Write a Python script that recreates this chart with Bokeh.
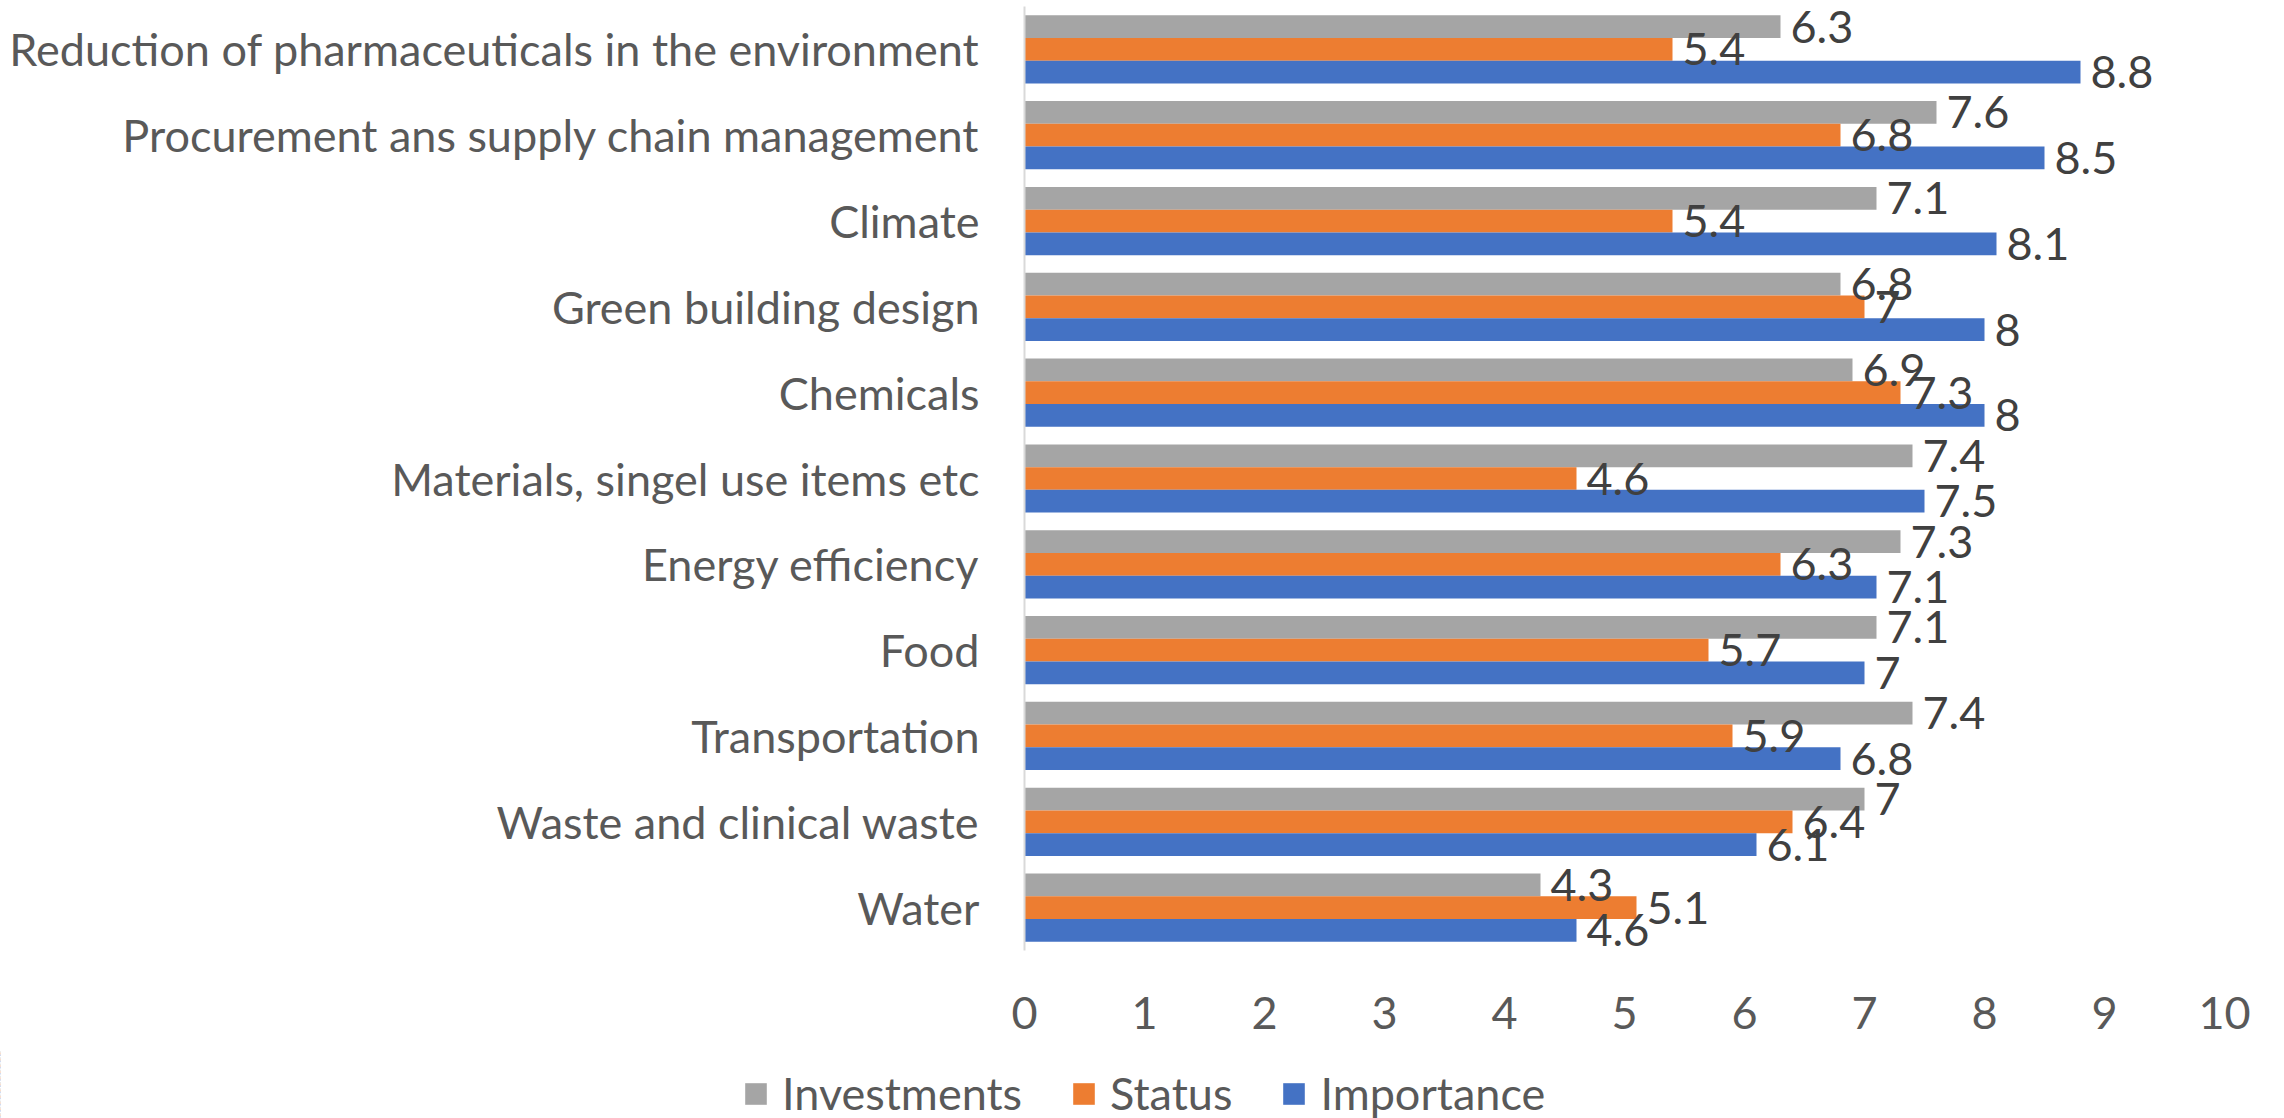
from bokeh.plotting import figure
from bokeh.models import FactorRange, Legend, LegendItem, ColumnDataSource, FixedTicker
from bokeh.transform import dodge
from bokeh.core.properties import value
from bokeh.embed import file_html
from bokeh.resources import INLINE

categories = [
    "Reduction of pharmaceuticals in the environment",
    "Procurement ans supply chain management",
    "Climate",
    "Green building design",
    "Chemicals",
    "Materials, singel use items etc",
    "Energy efficiency",
    "Food",
    "Transportation",
    "Waste and clinical waste",
    "Water",
]
investments = [6.3, 7.6, 7.1, 6.8, 6.9, 7.4, 7.3, 7.1, 7.4, 7.0, 4.3]
status = [5.4, 6.8, 5.4, 7.0, 7.3, 4.6, 6.3, 5.7, 5.9, 6.4, 5.1]
importance = [8.8, 8.5, 8.1, 8.0, 8.0, 7.5, 7.1, 7.0, 6.8, 6.1, 4.6]
series_names = ["Investments", "Status", "Importance"]
x_ticks = [0, 1, 2, 3, 4, 5, 6, 7, 8, 9, 10]

colors = ["#A5A5A5", "#ED7D31", "#4472C4"]
FONT = "Lato"
FS = "45px"

p = figure(
    width=2264, height=1050,
    y_range=FactorRange(factors=list(reversed(categories))),
    x_range=(0, 10),
    output_backend="svg", toolbar_location=None,
    min_border_left=1024, min_border_right=40, min_border_top=6,
    min_border_bottom=100,
)
p.outline_line_color = None
p.xgrid.visible = False
p.ygrid.visible = False

src = ColumnDataSource(dict(
    cat=categories,
    inv=investments, st=status, imp=importance,
    inv_t=[format(v, "g") for v in investments],
    st_t=[format(v, "g") for v in status],
    imp_t=[format(v, "g") for v in importance],
))

bw = 0.265
offsets = [bw, 0.0, -bw]
keys = [("inv", "inv_t"), ("st", "st_t"), ("imp", "imp_t")]
for (k, kt), off, c in zip(keys, offsets, colors):
    p.hbar(y=dodge("cat", off, range=p.y_range), right=k, left=0, height=bw,
           source=src, fill_color=c, line_color=None)
for (k, kt), off in zip(keys, offsets):
    p.text(x=k, y=dodge("cat", off, range=p.y_range), text=kt, source=src,
           x_offset=10, text_align="left", text_baseline="middle",
           text_font=value(FONT), text_font_size=FS, text_color="#404040")

yax = p.yaxis[0]
yax.axis_line_color = "#D9D9D9"
yax.axis_line_width = 2
yax.major_tick_line_color = None
yax.minor_tick_line_color = None
yax.major_tick_out = 0
yax.major_label_standoff = 45
yax.major_label_text_font = FONT
yax.major_label_text_font_size = FS
yax.major_label_text_color = "#595959"

xax = p.xaxis[0]
xax.ticker = FixedTicker(ticks=x_ticks)
xax.axis_line_color = None
xax.major_tick_line_color = None
xax.minor_tick_line_color = None
xax.major_tick_out = 0
xax.major_label_standoff = 46
xax.major_label_text_font = FONT
xax.major_label_text_font_size = FS
xax.major_label_text_color = "#595959"

# Legend strip below the chart, as a separate root (its own bar renderers lie outside its view range)
lp = figure(
    width=2264, height=68,
    y_range=FactorRange(factors=list(reversed(categories))),
    x_range=(100, 110),
    x_axis_type=None, y_axis_type=None,
    output_backend="svg", toolbar_location=None,
    min_border_left=0, min_border_right=0, min_border_top=0, min_border_bottom=0,
)
lp.outline_line_color = None
leg_renderers = []
for (k, kt), off, c in zip(keys, offsets, colors):
    r = lp.hbar(y=dodge("cat", off, range=lp.y_range), right=k, left=0, height=bw,
                source=src, fill_color=c, line_color=None)
    leg_renderers.append(r)

legend = Legend(
    items=[LegendItem(label=n, renderers=[r]) for n, r in zip(series_names, leg_renderers)],
    orientation="horizontal", location=(742, -2),
    label_text_font=FONT, label_text_font_size=FS, label_text_color="#595959",
    glyph_width=27, glyph_height=27, label_standoff=13, spacing=48,
    border_line_color=None, background_fill_alpha=0, padding=0, margin=0,
)
lp.add_layout(legend, "center")

open("out.html", "w").write(file_html([p, lp], INLINE))
